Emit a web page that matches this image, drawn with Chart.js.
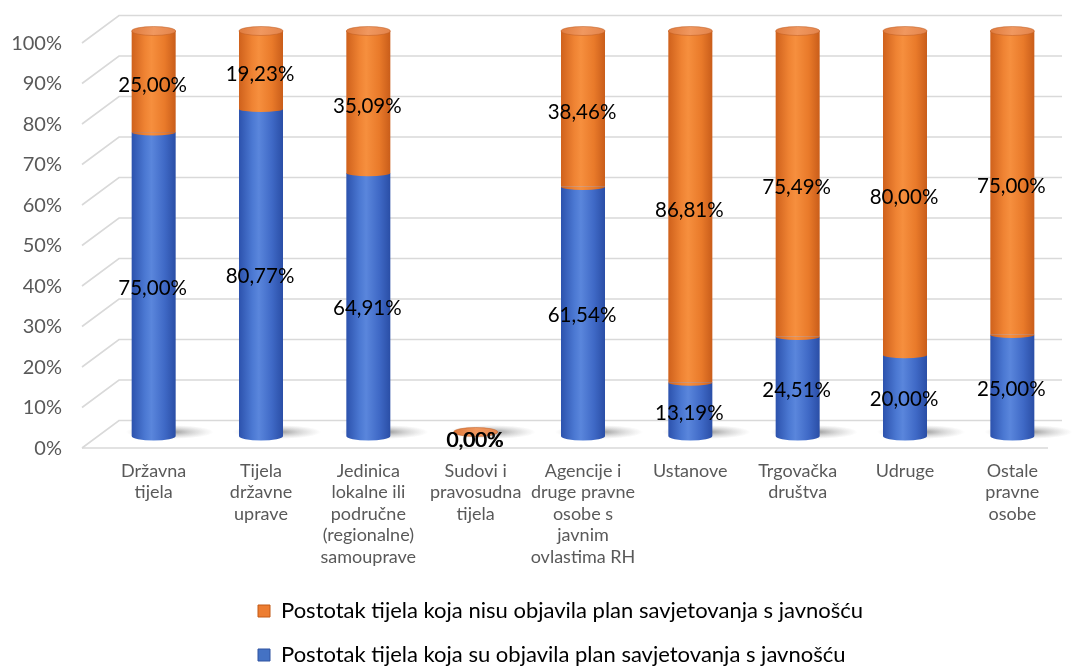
<!DOCTYPE html>
<html>
<head>
<meta charset="utf-8">
<script src="https://cdn.jsdelivr.net/npm/chart.js@4.4.1/dist/chart.umd.min.js"></script>
<style>
    html, body { margin: 0; padding: 0; background: #ffffff; }
    #wrap { width: 1072px; height: 666px; }
</style>
</head>
<body>
<div id="wrap"><canvas id="grafikon" width="1072" height="666"></canvas></div>
<script>
// Podaci
const kategorije = [
    ['Državna', 'tijela'],
    ['Tijela', 'državne', 'uprave'],
    ['Jedinica', 'lokalne ili', 'područne', '(regionalne)', 'samouprave'],
    ['Sudovi i', 'pravosudna', 'tijela'],
    ['Agencije i', 'druge pravne', 'osobe s', 'javnim', 'ovlastima RH'],
    'Ustanove',
    ['Trgovačka', 'društva'],
    'Udruge',
    ['Ostale', 'pravne', 'osobe']
];
const objavili = [75.00, 80.77, 64.91, 0, 61.54, 13.19, 24.51, 20.00, 25.00];
const nisuObjavili = [25.00, 19.23, 35.09, 0, 38.46, 86.81, 75.49, 80.00, 75.00];
const yTicks = [0, 10, 20, 30, 40, 50, 60, 70, 80, 90, 100];

const nazivObjavili = 'Postotak tijela koja su objavila plan savjetovanja s javnošću';
const nazivNisu = 'Postotak tijela koja nisu objavila plan savjetovanja s javnošću';

const FONT = 'Lato, "Open Sans", sans-serif';
const SIVA = '#595959';

// Boje cilindara
const plavaStops = ['#2c52ad', '#4b78d2', '#5a86dc', '#3f69c6', '#2a4ea6'];
const narancaStops = ['#cf611c', '#ef8333', '#f68f3e', '#e97a2a', '#c95d1a'];

function gradijent(ctx, x, w, stops) {
    const g = ctx.createLinearGradient(x - w / 2, 0, x + w / 2, 0);
    const pos = [0, 0.3, 0.45, 0.75, 1];
    stops.forEach((c, i) => g.addColorStop(pos[i], c));
    return g;
}

function bojaStupca(stops) {
    return (context) => {
        const chart = context.chart;
        if (!chart.chartArea || context.type !== 'data') return stops[2];
        const x = chart.scales.x.getPixelForValue(context.dataIndex);
        const w = (chart.chartArea.right - chart.chartArea.left) / kategorije.length * 0.41;
        return gradijent(chart.ctx, x, w, stops);
    };
}

function elipsa(ctx, x, y, rx, ry, start, end) {
    ctx.beginPath();
    ctx.ellipse(x, y, rx, ry, 0, start, end);
}

// Zidovi, pod i sjene (3D dojam)
const pozadina3D = {
    id: 'pozadina3D',
    afterLayout(chart) {
        // legenda: oba reda poravnata lijevo, blok pomaknut udesno
        chart.legend.left += 236;
        chart.legend.right += 236;
    },
    beforeDatasetsDraw(chart) {
        const { ctx, chartArea } = chart;
        const y = chart.scales.y;
        const prednjiX = 82, straznjiX = 119;
        ctx.save();
        ctx.strokeStyle = '#d9d9d9';
        ctx.lineWidth = 1.6;
        yTicks.forEach(v => {
            const p = y.getPixelForValue(v);
            const yb = p - 15.5;
            const yf = p + 12;
            ctx.beginPath();
            ctx.moveTo(prednjiX, yf);
            ctx.lineTo(straznjiX, yb);
            ctx.lineTo(chartArea.right - 4, yb);
            ctx.stroke();
        });
        // prednji rub poda
        const p0 = y.getPixelForValue(0) + 12;
        ctx.beginPath();
        ctx.moveTo(prednjiX, p0);
        ctx.lineTo(chartArea.right - 18, p0);
        ctx.stroke();

        // sjene pod cilindrima
        const meta = chart.getDatasetMeta(0);
        meta.data.forEach(el => {
            const cx = el.x + 16, cy = el.base - 4;
            const rx = 44, ry = 7;
            ctx.save();
            ctx.translate(cx, cy);
            ctx.scale(1, ry / rx);
            const g = ctx.createRadialGradient(0, 0, 0, 0, 0, rx);
            g.addColorStop(0, 'rgba(60,60,60,0.55)');
            g.addColorStop(0.5, 'rgba(90,90,90,0.25)');
            g.addColorStop(1, 'rgba(120,120,120,0)');
            ctx.fillStyle = g;
            ctx.beginPath();
            ctx.arc(0, 0, rx, 0, Math.PI * 2);
            ctx.fill();
            ctx.restore();
        });
        ctx.restore();
    }
};

// Kape cilindara i oznake vrijednosti
const cilindri = {
    id: 'cilindri',
    afterDatasetsDraw(chart) {
        const { ctx } = chart;
        const donji = chart.getDatasetMeta(0).data;
        const gornji = chart.getDatasetMeta(1).data;
        const ry = 4.5;
        ctx.save();
        donji.forEach((el, i) => {
            const rx = el.width / 2;
            const x = el.x;
            // dno plavog cilindra
            if (objavili[i] > 0) {
                ctx.fillStyle = gradijent(ctx, x, el.width, plavaStops);
                elipsa(ctx, x, el.base, rx, ry, 0, Math.PI);
                ctx.fill();
            }
            // spoj dviju boja
            const g = gornji[i];
            if (objavili[i] > 0 && nisuObjavili[i] > 0) {
                ctx.fillStyle = gradijent(ctx, x, el.width, narancaStops);
                elipsa(ctx, x, g.base, rx, ry * 0.7, 0, Math.PI);
                ctx.fill();
            }
            // gornja kapa
            const vrh = nisuObjavili[i] > 0 || objavili[i] === 0 ? g.y : el.y;
            const kapa = ctx.createLinearGradient(x - rx, vrh - ry, x + rx, vrh + ry);
            kapa.addColorStop(0, '#df7a3c');
            kapa.addColorStop(0.5, '#f09860');
            kapa.addColorStop(1, '#e3834a');
            ctx.fillStyle = kapa;
            elipsa(ctx, x, objavili[i] === 0 ? vrh - 4 : vrh, rx, ry, 0, Math.PI * 2);
            ctx.fill();
            ctx.strokeStyle = 'rgba(190,90,30,0.5)';
            ctx.lineWidth = 1;
            ctx.stroke();
        });

        // oznake vrijednosti
        ctx.fillStyle = '#000000';
        ctx.font = '20.5px ' + FONT;
        ctx.textAlign = 'center';
        ctx.textBaseline = 'middle';
        [[donji, objavili], [gornji, nisuObjavili]].forEach(([elementi, vrijednosti], k) => {
            elementi.forEach((el, i) => {
                const tekst = vrijednosti[i].toFixed(2).replace('.', ',') + '%';
                // dvije nule se preklapaju pa izgledaju podebljano
                const pomak = (objavili[i] === 0 && k === 1) ? 0.8 : 0;
                ctx.fillText(tekst, el.x - 1 + pomak, (el.y + el.base) / 2 + 4);
            });
        });
        ctx.restore();
    }
};

new Chart(document.getElementById('grafikon'), {
    type: 'bar',
    data: {
        labels: kategorije,
        datasets: [
            {
                label: nazivObjavili,
                data: objavili,
                backgroundColor: bojaStupca(plavaStops),
                borderWidth: 0,
                barPercentage: 0.41,
                categoryPercentage: 1,
            },
            {
                label: nazivNisu,
                data: nisuObjavili,
                backgroundColor: bojaStupca(narancaStops),
                borderWidth: 0,
                barPercentage: 0.41,
                categoryPercentage: 1,
            }
        ]
    },
    options: {
        responsive: false,
        animation: false,
        events: [],
        layout: {
            padding: { top: 31, left: 0, right: 6, bottom: -10 }
        },
        scales: {
            x: {
                stacked: true,
                grid: { display: false, drawTicks: false },
                border: { display: false },
                ticks: {
                    color: SIVA,
                    font: { family: FONT, size: 18, lineHeight: 1.2 },
                    padding: 24,
                    maxRotation: 0,
                    autoSkip: false,
                },
                afterFit: (s) => { s.height = 142; s.paddingLeft = 0; s.paddingRight = 0; }
            },
            y: {
                stacked: true,
                min: 0,
                max: 100,
                grid: { display: false, drawTicks: false },
                border: { display: false },
                ticks: {
                    stepSize: 10,
                    color: SIVA,
                    font: { family: FONT, size: 20 },
                    padding: 38,
                    labelOffset: 12.5,
                    callback: (v) => v + '%'
                },
                afterFit: (s) => { s.width = 100; s.paddingTop = 0; s.paddingBottom = 0; }
            }
        },
        plugins: {
            legend: {
                position: 'bottom',
                align: 'start',
                reverse: true,
                labels: {
                    color: SIVA,
                    font: { family: FONT, size: 22 },
                    boxWidth: 12,
                    boxHeight: 12,
                    padding: 22,
                    generateLabels: (chart) => [
                        { text: nazivObjavili, fillStyle: '#4472c4', strokeStyle: '#2f52a0', lineWidth: 1, datasetIndex: 0 },
                        { text: nazivNisu, fillStyle: '#ed7d31', strokeStyle: '#c25b17', lineWidth: 1, datasetIndex: 1 }
                    ]
                }
            },
            tooltip: { enabled: false }
        }
    },
    plugins: [pozadina3D, cilindri]
});
</script>
</body>
</html>
